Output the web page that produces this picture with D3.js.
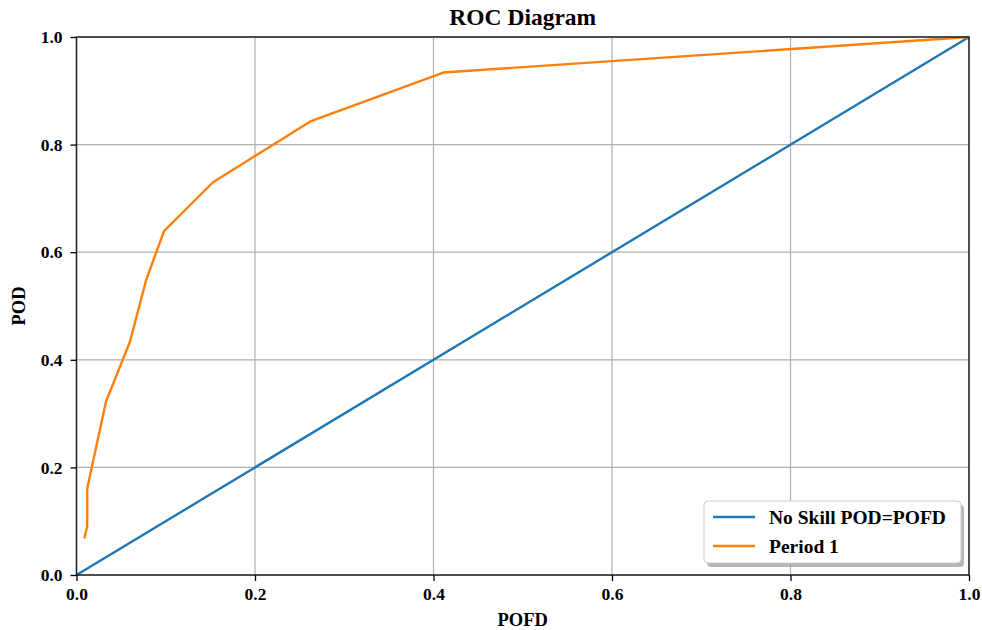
<!DOCTYPE html>
<html lang="en">
<head>
<meta charset="UTF-8">
<title>ROC Diagram</title>
<script src="https://cdnjs.cloudflare.com/ajax/libs/d3/7.8.5/d3.min.js"></script>
<style>
  body { margin: 0; background: #fff; }
  text { font-family: "Liberation Serif", "Times New Roman", serif; font-weight: bold; fill: #000; }
</style>
</head>
<body>
<div id="chart"></div>
<script>
// series
var noSkillX = [0, 1];
var noSkillY = [0, 1];
var periodX = [0.0087, 0.012, 0.012, 0.033, 0.060, 0.078, 0.098, 0.153, 0.262, 0.411, 1.0];
var periodY = [0.068, 0.090, 0.161, 0.322, 0.434, 0.548, 0.639, 0.730, 0.843, 0.934, 1.0];
var ticks = [0, 0.2, 0.4, 0.6, 0.8, 1.0];
var legendLabels = ["No Skill POD=POFD", "Period 1"];

var width = 982, height = 630;
var margin = { left: 76.5, right: 13, top: 37, bottom: 55 };
var blue = '#1f77b4', orange = '#ff7f0e';

var svg = d3.select('#chart').append('svg')
  .attr('width', width).attr('height', height);

var x = d3.scaleLinear().domain([0, 1]).range([margin.left, width - margin.right]);
var y = d3.scaleLinear().domain([0, 1]).range([height - margin.bottom, margin.top]);

// grid
var g = svg.append('g');
g.selectAll('.vgrid').data(ticks).enter().append('line')
  .attr('x1', function(d) { return x(d); }).attr('x2', function(d) { return x(d); })
  .attr('y1', y(0)).attr('y2', y(1))
  .attr('stroke', '#b0b0b0').attr('stroke-width', 1.2);
g.selectAll('.hgrid').data(ticks).enter().append('line')
  .attr('y1', function(d) { return y(d); }).attr('y2', function(d) { return y(d); })
  .attr('x1', x(0)).attr('x2', x(1))
  .attr('stroke', '#b0b0b0').attr('stroke-width', 1.2);

// lines
var line = d3.line()
  .x(function(d) { return x(d[0]); })
  .y(function(d) { return y(d[1]); });

g.append('path')
  .datum(d3.zip(noSkillX, noSkillY))
  .attr('d', line).attr('fill', 'none')
  .attr('stroke', blue).attr('stroke-width', 2.4);

g.append('path')
  .datum(d3.zip(periodX, periodY))
  .attr('d', line).attr('fill', 'none')
  .attr('stroke', orange).attr('stroke-width', 2.4)
  .attr('stroke-linejoin', 'round');

// frame
svg.append('rect')
  .attr('x', x(0)).attr('y', y(1))
  .attr('width', x(1) - x(0)).attr('height', y(0) - y(1))
  .attr('fill', 'none').attr('stroke', '#222').attr('stroke-width', 1.5);

// axes
var xAxis = svg.append('g')
  .attr('transform', 'translate(0,' + y(0) + ')')
  .call(d3.axisBottom(x).tickValues(ticks).tickFormat(d3.format('.1f')).tickSize(6).tickPadding(7));
var yAxis = svg.append('g')
  .attr('transform', 'translate(' + x(0) + ',0)')
  .call(d3.axisLeft(y).tickValues(ticks).tickFormat(d3.format('.1f')).tickSize(6).tickPadding(8));
[xAxis, yAxis].forEach(function(a) {
  a.select('.domain').remove();
  a.selectAll('.tick line').attr('stroke', '#000').attr('stroke-width', 1.3);
  a.selectAll('.tick text')
    .style('font-family', '"Liberation Serif", "Times New Roman", serif')
    .style('font-weight', 'bold').style('font-size', '17.5px').attr('fill', '#000');
});

// labels
svg.append('text')
  .attr('x', (x(0) + x(1)) / 2).attr('y', 25)
  .attr('text-anchor', 'middle').style('font-size', '23.5px')
  .text('ROC Diagram');
svg.append('text')
  .attr('x', (x(0) + x(1)) / 2).attr('y', 626)
  .attr('text-anchor', 'middle').style('font-size', '18.5px')
  .text('POFD');
svg.append('text')
  .attr('transform', 'translate(25,' + ((y(0) + y(1)) / 2) + ') rotate(-90)')
  .attr('text-anchor', 'middle').style('font-size', '18.5px')
  .text('POD');

// legend
var lg = svg.append('g').attr('transform', 'translate(704,501)');
lg.append('rect')
  .attr('x', 3).attr('y', 4).attr('width', 257).attr('height', 62)
  .attr('rx', 4).attr('fill', '#999').attr('opacity', 0.7);
lg.append('rect')
  .attr('x', 0).attr('y', 0).attr('width', 257).attr('height', 62)
  .attr('rx', 4).attr('fill', '#fff').attr('stroke', '#ccc').attr('stroke-width', 1);
var items = lg.selectAll('.item').data(legendLabels).enter().append('g')
  .attr('transform', function(d, i) { return 'translate(0,' + (16 + i * 29) + ')'; });
items.append('line')
  .attr('x1', 9).attr('x2', 51).attr('y1', 0).attr('y2', 0)
  .attr('stroke', function(d, i) { return i === 0 ? blue : orange; })
  .attr('stroke-width', 2.4);
items.append('text')
  .attr('x', 65).attr('y', 6.5).style('font-size', '19.5px')
  .text(function(d) { return d; });
</script>
</body>
</html>
